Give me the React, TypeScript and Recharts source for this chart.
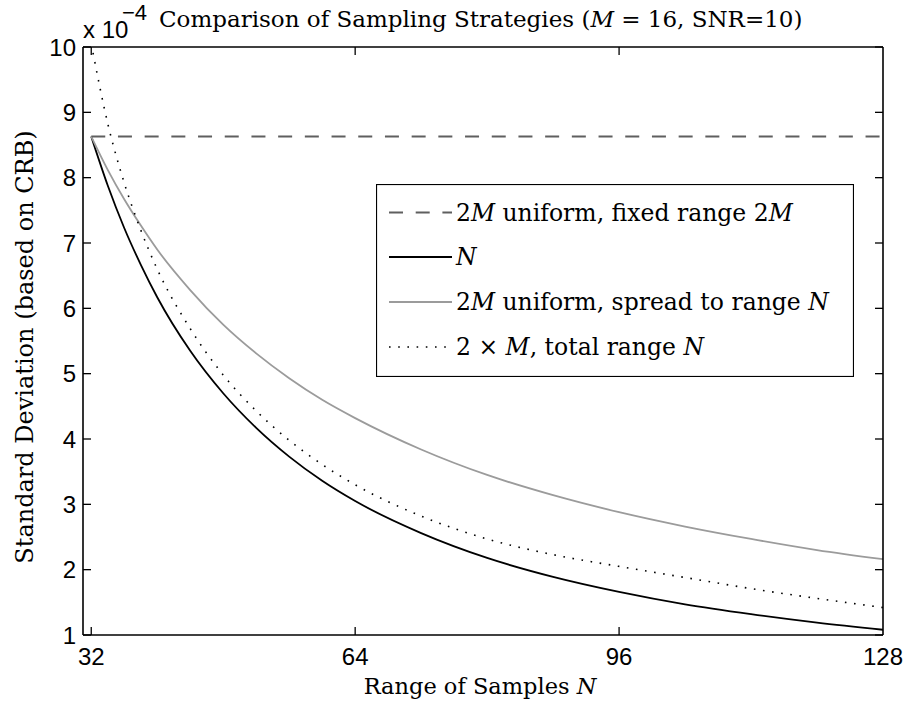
import React from 'react';
import { LineChart, Line, XAxis, YAxis, Legend, Customized } from 'recharts';

// Range of samples N
const nValues = [32, 34, 36, 38, 40, 44, 48, 52, 56, 60, 64, 72, 80, 88, 96, 104, 112, 120, 128];
// Std. deviation (x 1e-4) per strategy
const fixedRange2M = [8.63, 8.63, 8.63, 8.63, 8.63, 8.63, 8.63, 8.63, 8.63, 8.63, 8.63, 8.63, 8.63, 8.63, 8.63, 8.63, 8.63, 8.63, 8.63];
const fullN = [8.63, 7.88, 7.23, 6.67, 6.17, 5.35, 4.7, 4.17, 3.73, 3.36, 3.05, 2.56, 2.18, 1.89, 1.66, 1.47, 1.32, 1.19, 1.08];
const spreadN = [8.63, 8.12, 7.67, 7.27, 6.9, 6.28, 5.75, 5.31, 4.93, 4.6, 4.32, 3.84, 3.45, 3.14, 2.88, 2.66, 2.47, 2.3, 2.16];
const twoTimesM = [10.05, 8.83, 7.92, 7.2, 6.6, 5.69, 4.98, 4.43, 3.98, 3.61, 3.3, 2.82, 2.47, 2.23, 2.05, 1.88, 1.71, 1.56, 1.42];

const xTicks = [32, 64, 96, 128];
const yTicks = [1, 2, 3, 4, 5, 6, 7, 8, 9, 10];
const xDomain: [number, number] = [31, 128];
const yDomain: [number, number] = [1, 10];

const seriesKeys = ['fixed', 'full', 'spread', 'twoM'];
const seriesNames = [
  '2M uniform, fixed range 2M',
  'N',
  '2M uniform, spread to range N',
  '2 × M, total range N',
];
const seriesColors = ['#5f5f5f', '#000000', '#9b9b9b', '#000000'];
const seriesDash = ['14 12.7', '', '', '1.6 7.6'];
const seriesWidth = [2, 1.8, 1.8, 1.6];

const titleText = 'Comparison of Sampling Strategies (';
const titleTail = ' = 16, SNR=10)';
const yLabel = 'Standard Deviation (based on CRB)';
const xLabel = 'Range of Samples ';

const data = nValues.map((n, i) => ({
  n,
  fixed: fixedRange2M[i],
  full: fullN[i],
  spread: spreadN[i],
  twoM: twoTimesM[i],
}));

const W = 908;
const H = 701;
const PLOT_RIGHT = 883;
const TICK_LEN = 8;
const SANS = '"Liberation Sans", Arial, sans-serif';
const SERIF = '"DejaVu Serif", serif';

const mathParts = (s: string) =>
  s.split(/([MN])/).filter((p) => p !== '').map((p, i) =>
    p === 'M' || p === 'N' ? (
      <tspan key={i} fontStyle="italic">{p}</tspan>
    ) : (
      <tspan key={i}>{p}</tspan>
    )
  );

const BottomTick = (props: any) => {
  const { x, y, payload } = props;
  return (
    <g>
      {x <= PLOT_RIGHT - 2 && <line x1={x} y1={y} x2={x} y2={y - TICK_LEN} stroke="#000" strokeWidth={1.3} />}
      <text x={x} y={y + 30} textAnchor="middle" fontFamily={SANS} fontSize={24} fill="#000">
        {payload.value}
      </text>
    </g>
  );
};

const TopTick = (props: any) => {
  const { x, y } = props;
  if (x > PLOT_RIGHT - 2) return <g />;
  return <line x1={x} y1={y} x2={x} y2={y + TICK_LEN} stroke="#000" strokeWidth={1.3} />;
};

const LeftTick = (props: any) => {
  const { x, y, payload } = props;
  return (
    <g>
      <line x1={x} y1={y} x2={x + TICK_LEN} y2={y} stroke="#000" strokeWidth={1.3} />
      <text x={x - 7} y={y + 8.6} textAnchor="end" fontFamily={SANS} fontSize={24} fill="#000">
        {payload.value}
      </text>
    </g>
  );
};

const RightTick = (props: any) => {
  const { x, y } = props;
  return <line x1={x} y1={y} x2={x - TICK_LEN} y2={y} stroke="#000" strokeWidth={1.3} />;
};

const renderLegend = () => {
  const boxW = 478;
  const boxH = 193;
  const rows = [28.5, 73, 118, 163];
  return (
    <svg width={boxW} height={boxH} style={{ display: 'block', background: '#fff' }}>
      <rect x={0.5} y={0.5} width={boxW - 1} height={boxH - 1} fill="#fff" stroke="#000" strokeWidth={1.2} />
      {seriesKeys.map((k, i) => (
        <g key={k}>
          <line
            x1={13}
            y1={rows[i]}
            x2={76}
            y2={rows[i]}
            stroke={seriesColors[i]}
            strokeWidth={seriesWidth[i]}
            strokeDasharray={seriesDash[i] || undefined}
          />
          <text x={80} y={rows[i] + 8} fontFamily={SERIF} fontSize={23.5} fill="#000">
            {mathParts(seriesNames[i])}
          </text>
        </g>
      ))}
    </svg>
  );
};

const Annotations = () => (
  <g>
    <text x={83} y={38} fontFamily={SANS} fontSize={24} fill="#000">x 10</text>
    <text x={122} y={20} fontFamily={SANS} fontSize={22} fill="#000">−4</text>
    <text x={159} y={26.5} fontFamily={SERIF} fontSize={23} fill="#000">
      <tspan>{titleText}</tspan>
      <tspan fontStyle="italic">M</tspan>
      <tspan>{titleTail}</tspan>
    </text>
    <text
      x={33}
      y={347}
      transform="rotate(-90 33 347)"
      textAnchor="middle"
      fontFamily={SERIF}
      fontSize={24}
      fill="#000"
    >
      {yLabel}
    </text>
    <text x={480} y={694} textAnchor="middle" fontFamily={SERIF} fontSize={22.5} fill="#000">
      <tspan>{xLabel}</tspan>
      <tspan fontStyle="italic">N</tspan>
    </text>
  </g>
);

export default function App() {
  return (
    <div style={{ position: 'absolute', left: 0, top: 0, width: W, height: H, background: '#fff' }}>
      <LineChart width={W} height={H} data={data} margin={{ top: 46, right: 24, bottom: 26, left: 23 }}>
        <XAxis
          dataKey="n"
          type="number"
          domain={xDomain}
          ticks={xTicks}
          interval={0}
          allowDataOverflow
          height={40}
          tickSize={0}
          tickMargin={0}
          tickLine={false}
          axisLine={{ stroke: '#000', strokeWidth: 1.6 }}
          tick={(p: any) => <BottomTick {...p} />}
        />
        <XAxis
          xAxisId="top"
          orientation="top"
          dataKey="n"
          type="number"
          domain={xDomain}
          ticks={xTicks}
          interval={0}
          allowDataOverflow
          height={1}
          tickSize={0}
          tickMargin={0}
          tickLine={false}
          axisLine={{ stroke: '#000', strokeWidth: 1.6 }}
          tick={(p: any) => <TopTick {...p} />}
        />
        <YAxis
          type="number"
          domain={yDomain}
          ticks={yTicks}
          interval={0}
          allowDataOverflow
          width={60}
          tickSize={0}
          tickMargin={0}
          tickLine={false}
          axisLine={{ stroke: '#000', strokeWidth: 1.6 }}
          tick={(p: any) => <LeftTick {...p} />}
        />
        <YAxis
          yAxisId="right"
          orientation="right"
          type="number"
          domain={yDomain}
          ticks={yTicks}
          interval={0}
          allowDataOverflow
          width={1}
          tickSize={0}
          tickMargin={0}
          tickLine={false}
          axisLine={{ stroke: '#000', strokeWidth: 1.6 }}
          tick={(p: any) => <RightTick {...p} />}
        />
        {seriesKeys.map((k, i) => (
          <Line
            key={k}
            dataKey={k}
            name={seriesNames[i]}
            type="monotone"
            stroke={seriesColors[i]}
            strokeWidth={seriesWidth[i]}
            strokeDasharray={seriesDash[i] || undefined}
            dot={false}
            activeDot={false}
            isAnimationActive={false}
          />
        ))}
        <Legend
          layout="vertical"
          align="center"
          verticalAlign="middle"
          content={renderLegend}
          wrapperStyle={{ left: 376, top: 184, width: 478, height: 193 }}
        />
        <Customized component={Annotations} />
      </LineChart>
    </div>
  );
}
